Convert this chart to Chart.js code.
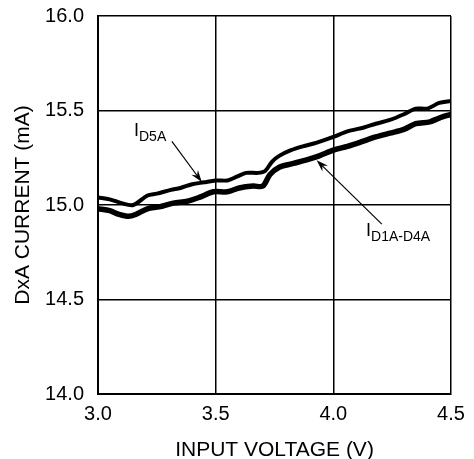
<!DOCTYPE html>
<html>
<head>
<meta charset="utf-8">
<script src="https://cdn.jsdelivr.net/npm/chart.js@4.4.1/dist/chart.umd.min.js"></script>
<style>
  html, body { margin: 0; padding: 0; background: #fff; }
  #wrap { width: 474px; height: 459px; }
</style>
</head>
<body>
<div id="wrap"><canvas id="chart"></canvas></div>
<script>
// I_D5A (upper trace)
const voltD5A = [3.00, 3.05, 3.10, 3.15, 3.21, 3.25, 3.31, 3.35, 3.40, 3.45, 3.50, 3.55, 3.59, 3.63, 3.68, 3.71, 3.74, 3.77, 3.82, 3.87, 3.93, 4.00, 4.06, 4.13, 4.18, 4.24, 4.30, 4.35, 4.40, 4.45, 4.50];
const currD5A = [15.04, 15.03, 15.01, 15.00, 15.05, 15.06, 15.08, 15.09, 15.11, 15.12, 15.13, 15.13, 15.15, 15.17, 15.17, 15.18, 15.23, 15.26, 15.29, 15.31, 15.33, 15.36, 15.39, 15.41, 15.43, 15.45, 15.48, 15.51, 15.51, 15.54, 15.55];

// I_D1A-D4A (lower trace)
const voltD1D4 = [3.00, 3.05, 3.09, 3.13, 3.16, 3.21, 3.26, 3.32, 3.38, 3.43, 3.49, 3.55, 3.60, 3.66, 3.70, 3.73, 3.77, 3.83, 3.89, 3.94, 4.00, 4.06, 4.11, 4.18, 4.24, 4.30, 4.35, 4.41, 4.45, 4.50];
const currD1D4 = [14.98, 14.97, 14.95, 14.94, 14.95, 14.98, 14.99, 15.01, 15.02, 15.04, 15.07, 15.07, 15.09, 15.10, 15.10, 15.16, 15.20, 15.22, 15.24, 15.26, 15.29, 15.31, 15.33, 15.36, 15.38, 15.40, 15.43, 15.44, 15.46, 15.48];

const xTicks = [3.0, 3.5, 4.0, 4.5];
const yTicks = [14.0, 14.5, 15.0, 15.5, 16.0];

const toPoints = (xs, ys) => xs.map((x, i) => ({ x: x, y: ys[i] }));

// callouts: label baseline and arrow, in data units
const callouts = [
  { main: "I", sub: "D5A", at: [3.153, 15.365], from: [3.314, 15.337], to: [3.441, 15.122] },
  { main: "I", sub: "D1A-D4A", at: [4.139, 14.838], from: [4.206, 14.899], to: [3.929, 15.237] }
];

const calloutPlugin = {
  id: 'callouts',
  afterDatasetsDraw(chart) {
    const ctx = chart.ctx;
    const xs = chart.scales.x, ys = chart.scales.y;
    ctx.save();
    ctx.fillStyle = '#000';
    ctx.strokeStyle = '#000';
    callouts.forEach(c => {
      const lx = xs.getPixelForValue(c.at[0]);
      const ly = ys.getPixelForValue(c.at[1]);
      ctx.textBaseline = 'alphabetic';
      ctx.textAlign = 'left';
      ctx.font = '18px "Liberation Sans", Arial, sans-serif';
      ctx.fillText(c.main, lx, ly);
      const w = ctx.measureText(c.main).width;
      ctx.font = '14px "Liberation Sans", Arial, sans-serif';
      ctx.fillText(c.sub, lx + w, ly + 5);

      const x1 = xs.getPixelForValue(c.from[0]), y1 = ys.getPixelForValue(c.from[1]);
      const x2 = xs.getPixelForValue(c.to[0]), y2 = ys.getPixelForValue(c.to[1]);
      const ang = Math.atan2(y2 - y1, x2 - x1);
      const cs = Math.cos(ang), sn = Math.sin(ang);
      ctx.lineWidth = 1.2;
      ctx.beginPath();
      ctx.moveTo(x1, y1);
      ctx.lineTo(x2 - 8 * cs, y2 - 8 * sn);
      ctx.stroke();
      ctx.beginPath();
      ctx.moveTo(x2, y2);
      ctx.lineTo(x2 - 12 * cs + 4 * sn, y2 - 12 * sn - 4 * cs);
      ctx.lineTo(x2 - 8 * cs, y2 - 8 * sn);
      ctx.lineTo(x2 - 12 * cs - 4 * sn, y2 - 12 * sn + 4 * cs);
      ctx.closePath();
      ctx.fill();
    });
    ctx.restore();
  }
};

const family = '"Liberation Sans", Arial, sans-serif';

new Chart(document.getElementById('chart'), {
  type: 'scatter',
  data: {
    datasets: [
      {
        label: 'ID5A',
        data: toPoints(voltD5A, currD5A),
        showLine: true,
        borderColor: '#000',
        borderWidth: 4,
        pointRadius: 0,
        tension: 0.3
      },
      {
        label: 'ID1A-D4A',
        data: toPoints(voltD1D4, currD1D4),
        showLine: true,
        borderColor: '#000',
        borderWidth: 5.5,
        pointRadius: 0,
        tension: 0.3
      }
    ]
  },
  options: {
    responsive: true,
    maintainAspectRatio: false,
    animation: false,
    layout: { padding: { left: 0, top: 16, right: 23, bottom: 0 } },
    plugins: { legend: { display: false }, tooltip: { enabled: false } },
    scales: {
      x: {
        type: 'linear',
        min: 3.0,
        max: 4.5,
        afterBuildTicks: s => { s.ticks = xTicks.map(v => ({ value: v })); },
        afterFit: s => { s.height = 65; s.paddingLeft = 0; s.paddingRight = 0; },
        ticks: { color: '#000', font: { family: family, size: 20 }, padding: 8, maxRotation: 0, callback: v => v.toFixed(1) },
        grid: { color: '#000', lineWidth: 1.5, drawTicks: false },
        border: { color: '#000', width: 2 },
        title: { display: true, text: 'INPUT VOLTAGE (V)', color: '#000', font: { family: family, size: 21 }, padding: { top: 8, bottom: -4 } }
      },
      y: {
        type: 'linear',
        min: 14.0,
        max: 16.0,
        afterBuildTicks: s => { s.ticks = yTicks.map(v => ({ value: v })); },
        afterFit: s => { s.width = 98; s.paddingTop = 0; s.paddingBottom = 0; },
        ticks: { color: '#000', font: { family: family, size: 20 }, padding: 14, callback: v => v.toFixed(1) },
        grid: { color: '#000', lineWidth: 1.5, drawTicks: false },
        border: { color: '#000', width: 2 },
        title: { display: true, text: 'DxA CURRENT (mA)', color: '#000', font: { family: family, size: 21 }, padding: { top: 11, bottom: 4 } }
      }
    }
  },
  plugins: [calloutPlugin]
});
</script>
</body>
</html>
